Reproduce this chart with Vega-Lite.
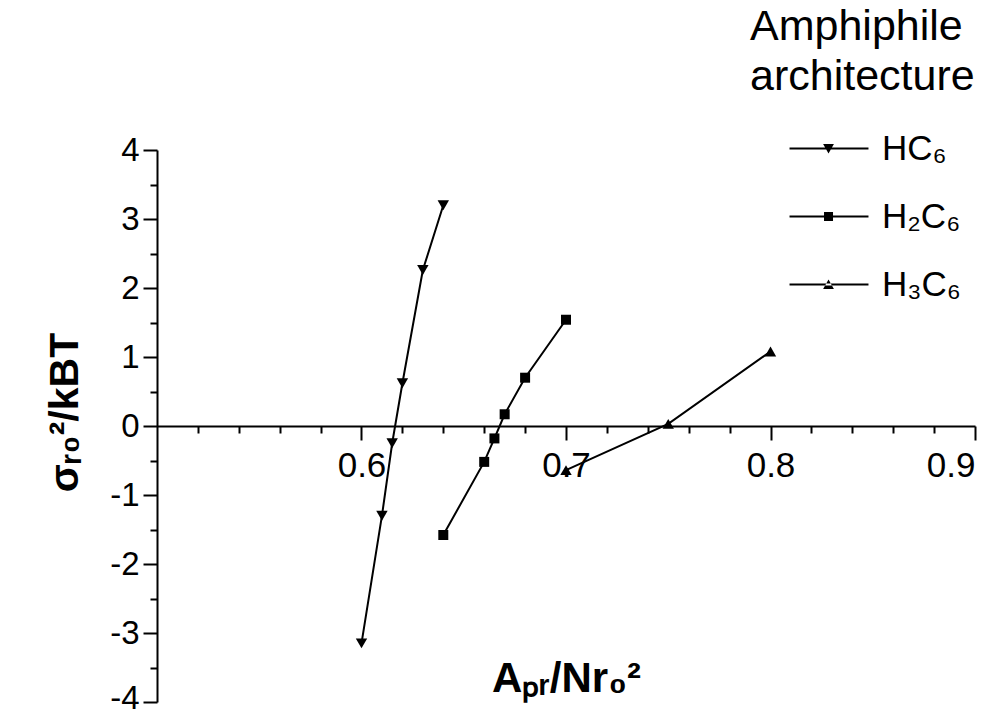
{
  "$schema": "https://vega.github.io/schema/vega-lite/v6.json",
  "width": 818,
  "height": 552,
  "autosize": {"type": "none"},
  "padding": {"left": 157, "top": 150, "right": 32, "bottom": 12},
  "background": "white",
  "config": {
    "view": {"stroke": null},
    "font": "Liberation Sans",
    "axis": {
      "grid": false,
      "domainColor": "black",
      "tickColor": "black",
      "labelColor": "black",
      "titleColor": "black",
      "domainWidth": 2,
      "tickWidth": 2,
      "labelFont": "Liberation Sans",
      "titleFont": "Liberation Sans"
    }
  },
  "data": {
    "values": [
      {"series": "HC₆", "x": 0.600, "y": -3.15},
      {"series": "HC₆", "x": 0.610, "y": -1.30},
      {"series": "HC₆", "x": 0.615, "y": -0.25},
      {"series": "HC₆", "x": 0.620, "y": 0.62},
      {"series": "HC₆", "x": 0.630, "y": 2.26},
      {"series": "HC₆", "x": 0.640, "y": 3.20},
      {"series": "H₂C₆", "x": 0.640, "y": -1.58},
      {"series": "H₂C₆", "x": 0.660, "y": -0.52},
      {"series": "H₂C₆", "x": 0.665, "y": -0.18},
      {"series": "H₂C₆", "x": 0.670, "y": 0.17},
      {"series": "H₂C₆", "x": 0.680, "y": 0.70},
      {"series": "H₂C₆", "x": 0.700, "y": 1.54},
      {"series": "H₃C₆", "x": 0.700, "y": -0.64},
      {"series": "H₃C₆", "x": 0.750, "y": 0.03},
      {"series": "H₃C₆", "x": 0.800, "y": 1.08}
    ]
  },
  "resolve": {"axis": {"x": "independent", "y": "independent"}},
  "layer": [
    {
      "mark": {"type": "line", "color": "black", "strokeWidth": 2},
      "encoding": {
        "x": {
          "field": "x", "type": "quantitative",
          "scale": {"domain": [0.5, 0.9], "nice": false, "zero": false},
          "axis": {
            "orient": "bottom", "offset": -276,
            "values": [0.6, 0.7, 0.8, 0.9],
            "labelExpr": "format(datum.value, '.1f')",
            "tickSize": 14, "labelFontSize": 35, "labelPadding": 8,
            "title": "Aₚᵣ/Nr₀²", "titleFontSize": 42, "titleFontWeight": "bold",
            "titleY": 265, "titleBaseline": "alphabetic"
          }
        },
        "y": {
          "field": "y", "type": "quantitative",
          "scale": {"domain": [-4, 4], "nice": false, "zero": false},
          "axis": {
            "orient": "left",
            "values": [-4, -3, -2, -1, 0, 1, 2, 3, 4],
            "labelExpr": "'' + datum.value",
            "labelOffset": {"condition": {"test": "datum.value === -4", "value": -4}, "value": 0},
            "tickSize": 14, "labelFontSize": 33, "labelPadding": 4,
            "title": "σᵣ₀²/kBT", "titleFontSize": 41, "titleFontWeight": "bold",
            "titleAngle": 270, "titleX": -80, "titleY": 262,
            "titleBaseline": "alphabetic", "titleAlign": "center"
          }
        },
        "detail": {"field": "series"}
      }
    },
    {
      "transform": [{"filter": "datum.series === 'HC₆'"}],
      "mark": {"type": "point", "shape": "triangle-down", "filled": true, "color": "black", "opacity": 1, "size": 130},
      "encoding": {
        "x": {
          "field": "x", "type": "quantitative",
          "axis": {
            "orient": "bottom", "offset": -276,
            "values": [0.52, 0.54, 0.56, 0.58, 0.62, 0.64, 0.66, 0.68, 0.72, 0.74, 0.76, 0.78, 0.82, 0.84, 0.86, 0.88],
            "tickSize": 7, "labels": false, "domain": false, "title": null
          }
        },
        "y": {
          "field": "y", "type": "quantitative",
          "axis": {
            "orient": "left",
            "values": [-3.5, -2.5, -1.5, -0.5, 0.5, 1.5, 2.5, 3.5],
            "tickSize": 7, "labels": false, "domain": false, "title": null
          }
        }
      }
    },
    {
      "transform": [{"filter": "datum.series === 'H₂C₆'"}],
      "mark": {"type": "point", "shape": "square", "filled": true, "color": "black", "opacity": 1, "size": 100},
      "encoding": {
        "x": {"field": "x", "type": "quantitative", "axis": null},
        "y": {"field": "y", "type": "quantitative", "axis": null}
      }
    },
    {
      "transform": [{"filter": "datum.series === 'H₃C₆'"}],
      "mark": {"type": "point", "shape": "triangle-up", "filled": true, "color": "black", "opacity": 1, "size": 130},
      "encoding": {
        "x": {"field": "x", "type": "quantitative", "axis": null},
        "y": {"field": "y", "type": "quantitative", "axis": null}
      }
    },
    {
      "transform": [{"filter": "false"}],
      "mark": {"type": "point", "filled": true, "color": "black", "opacity": 1},
      "encoding": {
        "shape": {
          "field": "series", "type": "nominal",
          "scale": {
            "domain": ["HC₆", "H₂C₆", "H₃C₆"],
            "range": [
              "M3.67,-0.17H16.83V0.17H3.67ZM9.27,-0.75H11.07L10.17,0.85Z",
              "M3.67,-0.17H16.83V0.17H3.67ZM9.42,-0.75H10.92V0.75H9.42Z",
              "M3.67,-0.17H16.83V0.17H3.67ZM9.27,0.75H11.07L10.17,-0.85Z"
            ]
          },
          "legend": {
            "orient": "none", "legendX": 593, "legendY": -144,
            "padding": 0,
            "title": ["Amphiphile", "architecture"],
            "titleFont": "Liberation Sans", "titleFontSize": 43, "titleFontWeight": "normal",
            "titleLineHeight": 50, "titleColor": "black", "titlePadding": 32, "titleLimit": 500,
            "labelFont": "Liberation Sans", "labelFontSize": 35, "labelColor": "black", "labelLimit": 300,
            "labelOffset": 97,
            "symbolSize": 144, "symbolFillColor": "black", "symbolStrokeColor": "black",
            "symbolStrokeWidth": 0, "symbolOpacity": 1,
            "rowPadding": 32
          }
        }
      }
    }
  ]
}
